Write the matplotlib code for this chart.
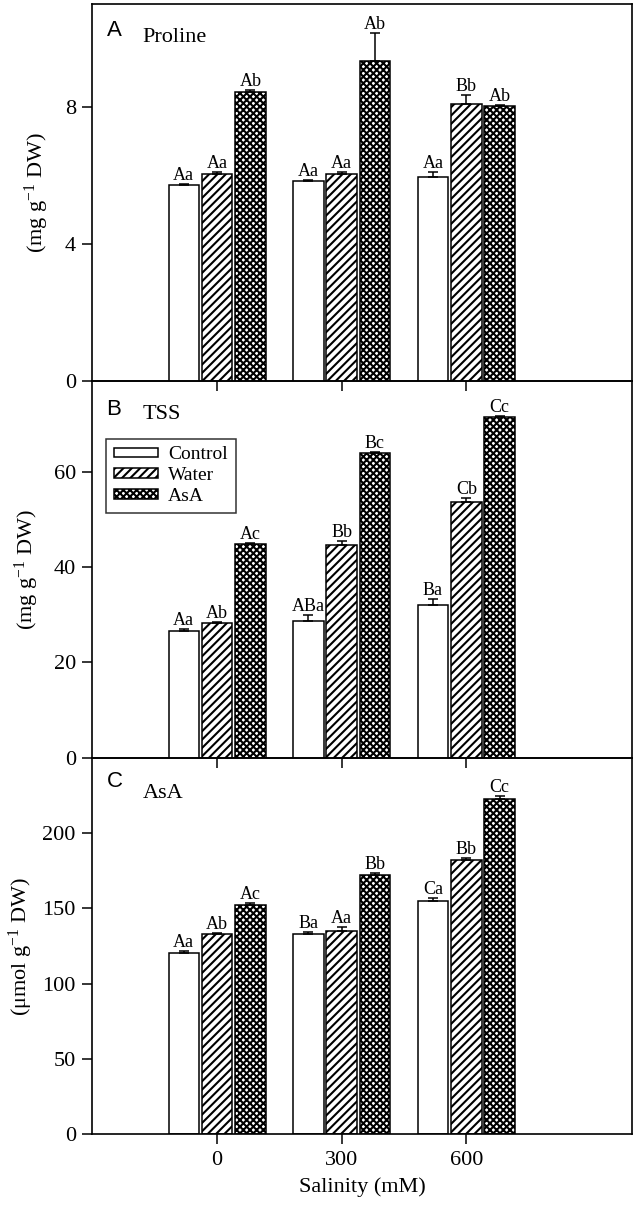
import matplotlib
matplotlib.use('Agg')
import matplotlib.pyplot as plt
import numpy as np

plt.rcParams['font.family'] = ['Liberation Serif', 'DejaVu Serif']
plt.rcParams['mathtext.fontset'] = 'custom'
plt.rcParams['mathtext.rm'] = 'Liberation Serif'
plt.rcParams['mathtext.it'] = 'Liberation Serif:italic'
plt.rcParams['hatch.linewidth'] = 1.5

# Дані
salinity = ['0', '300', '600']
treatments = ['Control', 'Water', 'AsA']

proline_control = [5.72, 5.85, 5.96]
proline_control_err = [0.03, 0.03, 0.13]
proline_water = [6.04, 6.05, 8.10]
proline_water_err = [0.06, 0.05, 0.25]
proline_asa = [8.43, 9.33, 8.02]
proline_asa_err = [0.08, 0.84, 0.03]
proline_letters = [['Aa', 'Aa', 'Aa'], ['Aa', 'Aa', 'Bb'], ['Ab', 'Ab', 'Ab']]

tss_control = [26.6, 28.7, 32.0]
tss_control_err = [0.3, 1.2, 1.3]
tss_water = [28.3, 44.7, 53.7]
tss_water_err = [0.2, 0.8, 0.7]
tss_asa = [44.9, 63.8, 71.4]
tss_asa_err = [0.2, 0.3, 0.2]
tss_letters = [['Aa', 'ABa', 'Ba'], ['Ab', 'Bb', 'Cb'], ['Ac', 'Bc', 'Cc']]

asa_control = [120.7, 132.8, 154.8]
asa_control_err = [1.0, 1.8, 2.0]
asa_water = [133.0, 135.2, 182.1]
asa_water_err = [1.0, 2.2, 1.5]
asa_asa = [152.1, 172.2, 222.6]
asa_asa_err = [1.2, 1.5, 1.8]
asa_letters = [['Aa', 'Ba', 'Ca'], ['Ab', 'Aa', 'Bb'], ['Ac', 'Bb', 'Cc']]

hatches = ['', '////', 'xxxxx']
offsets = [-0.267, 0.0, 0.267]
bar_width = 0.245


# Функція для малювання однієї панелі
def draw_panel(ax, values, errors, letters, ylim, yticks, ylabel, letter, title,
               label_x, letter_y, title_y):
    x = np.arange(len(salinity))
    for i in range(3):
        ax.bar(x + offsets[i], values[i], bar_width, color='white',
               edgecolor='black', hatch=hatches[i], linewidth=1.1,
               label=treatments[i], zorder=2)
        ax.errorbar(x + offsets[i], values[i],
                    yerr=[np.zeros(len(errors[i])), errors[i]],
                    fmt='none', ecolor='black', elinewidth=1.1,
                    capsize=3.5, capthick=1.1, zorder=3)
        for xi, v, e, t in zip(x + offsets[i], values[i], errors[i], letters[i]):
            ax.annotate(t, (xi, v + e), xytext=(0, 0), textcoords='offset points',
                        ha='center', va='bottom', fontsize=13)
    ax.set_xlim(-1.0, 3.33)
    ax.set_ylim(0, ylim)
    ax.set_yticks(yticks)
    ax.set_xticks(x)
    ax.tick_params(direction='out', length=7, width=1.1, labelsize=16, pad=5)
    ax.set_ylabel(ylabel, fontsize=16, va='center')
    ax.yaxis.set_label_coords(label_x, 0.5)
    for s in ax.spines.values():
        s.set_linewidth(1.2)
    ax.patch.set_visible(False)
    ax.text(0.026, letter_y, letter, transform=ax.transAxes, fontsize=16,
            family='Liberation Sans')
    ax.text(0.093, title_y, title, transform=ax.transAxes, fontsize=16)


fig = plt.figure(figsize=(6.36, 12.11), dpi=100)
left, width = 0.1454, 0.8483
height = 0.3111
ax_c = fig.add_axes([left, 0.0632, width, height])
ax_b = fig.add_axes([left, 0.0632 + height, width, height])
ax_a = fig.add_axes([left, 0.0632 + 2 * height, width, height])

draw_panel(ax_a,
           [proline_control, proline_water, proline_asa],
           [proline_control_err, proline_water_err, proline_asa_err],
           proline_letters, 11, [0, 4, 8], '(mg g$^{-1}$ DW)',
           'A', 'Proline', -0.103, 0.915, 0.899)
draw_panel(ax_b,
           [tss_control, tss_water, tss_asa],
           [tss_control_err, tss_water_err, tss_asa_err],
           tss_letters, 79, [0, 20, 40, 60], '(mg g$^{-1}$ DW)',
           'B', 'TSS', -0.122, 0.911, 0.900)
draw_panel(ax_c,
           [asa_control, asa_water, asa_asa],
           [asa_control_err, asa_water_err, asa_asa_err],
           asa_letters, 250, [0, 50, 100, 150, 200], '(μmol g$^{-1}$ DW)',
           'C', 'AsA', -0.133, 0.922, 0.893)

ax_a.set_xticklabels([])
ax_b.set_xticklabels([])
ax_c.set_xticklabels(salinity)
ax_c.set_xlabel('Salinity (mM)', fontsize=16, labelpad=5)

leg = ax_b.legend(loc='upper left', bbox_to_anchor=(0.025, 0.847), fontsize=14,
                  frameon=True, fancybox=False, edgecolor='black',
                  handlelength=2.3, handleheight=0.4, labelspacing=0.2,
                  handletextpad=0.5, borderpad=0.4, borderaxespad=0)
leg.get_frame().set_linewidth(1.1)

fig.savefig('out.png', dpi=100, facecolor='white')
